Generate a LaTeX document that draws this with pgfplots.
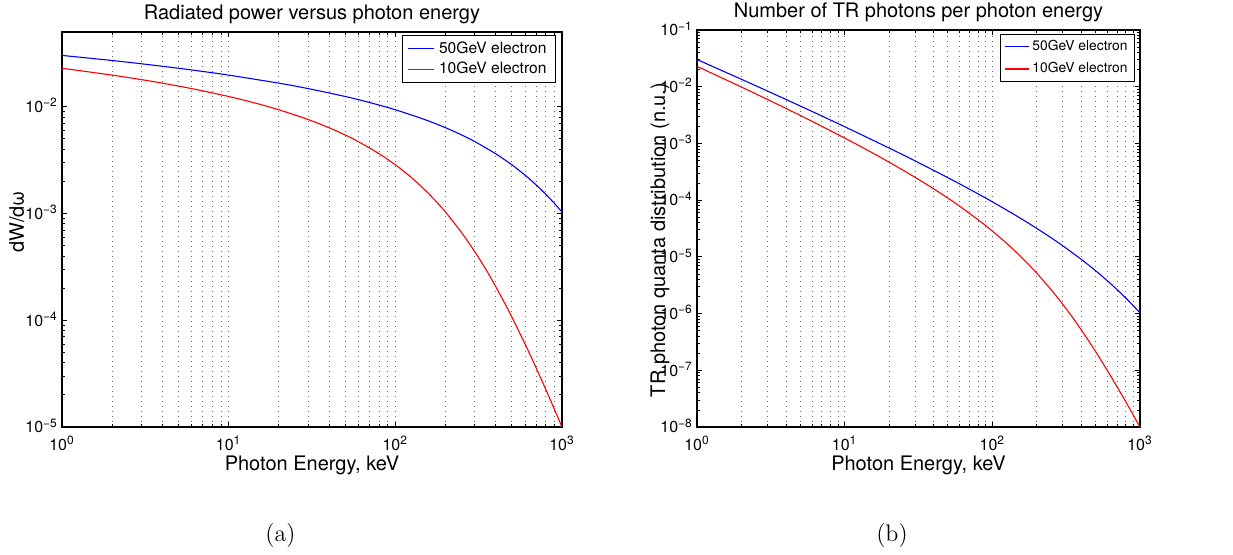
\documentclass[border=0pt]{standalone}
\usepackage{pgfplots}
\pgfplotsset{compat=1.18}
\usepackage{fontspec}
\newfontfamily\helv{TeX Gyre Heros}
\newcommand{\ttl}{\helv\fontsize{10}{12}\selectfont}
\newcommand{\tck}{\helv\fontsize{8}{9.6}\selectfont}
\newcommand{\lgda}{\helv\fontsize{7.8}{9}\selectfont}
\newcommand{\lgdb}{\helv\fontsize{6.9}{8}\selectfont}
\newcommand{\tp}[1]{10\textsuperscript{#1}}

\pgfplotstableread{
E y
1 0.030189
2 0.027042
3 0.025201
5 0.022882
7 0.021354
10 0.019737
20 0.016593
30 0.014757
50 0.012450
70 0.010938
100 0.0093499
150 0.0075752
200 0.0063497
250 0.0054287
300 0.0047028
400 0.0036211
500 0.0028534
600 0.0022834
700 0.0018484
800 0.0015102
900 0.0012433
1000 0.0010301
}\leftblue

\pgfplotstableread{
E y
1 0.022883
2 0.019737
3 0.017898
4 0.016593
6 0.014757
10 0.012450
14 0.010938
20 0.0093499
30 0.0075752
40 0.0063497
50 0.0054287
60 0.0047028
80 0.0036211
100 0.0028534
120 0.0022834
140 0.0018484
160 0.0015102
180 0.0012433
200 0.0010301
250 6.6075e-4
300 4.3703e-4
350 2.9829e-4
400 2.0703e-4
450 1.4755e-4
500 1.0735e-4
600 6.0003e-5
700 3.5718e-5
800 2.2398e-5
900 1.4678e-5
1000 1.0e-5
}\leftred

\pgfplotstableread{
E y
1 0.030189
2 0.013521
3 0.0084003
5 0.0045764
7 0.0030506
10 0.0019737
20 8.2965e-4
30 4.9190e-4
50 2.4900e-4
70 1.5626e-4
100 9.3499e-5
150 5.0501e-5
200 3.1749e-5
250 2.1715e-5
300 1.5676e-5
400 9.0528e-6
500 5.7068e-6
600 3.8057e-6
700 2.6406e-6
800 1.8878e-6
900 1.3814e-6
1000 1.0301e-6
}\rightblue

\pgfplotstableread{
E y
1 0.022883
2 0.0098685
3 0.0059660
4 0.0041483
6 0.0024595
10 0.0012450
14 7.8129e-4
20 4.6750e-4
30 2.5251e-4
40 1.5874e-4
50 1.0857e-4
60 7.8380e-5
80 4.5264e-5
100 2.8534e-5
120 1.9028e-5
140 1.3203e-5
160 9.4388e-6
180 6.9072e-6
200 5.1505e-6
250 2.6430e-6
300 1.4568e-6
350 8.5226e-7
400 5.1758e-7
450 3.2789e-7
500 2.1470e-7
600 1.0001e-7
700 5.1026e-8
800 2.7998e-8
900 1.6309e-8
1000 1.0e-8
}\rightred

\begin{document}
\begin{tikzpicture}
\useasboundingbox (0pt,0pt) rectangle (616.5pt,277pt);

\begin{axis}[
  xmode=log, ymode=log, scale only axis,
  at={(31pt,63.5pt)}, anchor=south west,
  width=250pt, height=197.5pt,
  xmin=1, xmax=1000,
  ymin=1e-5, ymax=0.05,
  xtick={1,10,100,1000},
  xticklabels={\tp{0},\tp{1},\tp{2},\tp{3}},
  ytick={1e-5,1e-4,1e-3,1e-2},
  yticklabels={\tp{−5},\tp{−4},\tp{−3},\tp{−2}},
  xminorticks=true, yminorticks=true,
  xmajorgrids=true, xminorgrids=true,
  major grid style={black!60, line width=0.4pt, dash pattern=on 0.5pt off 2pt},
  minor grid style={black!60, line width=0.4pt, dash pattern=on 0.5pt off 2pt},
  tick align=inside,
  major tick length=2.5pt, minor tick length=1.6pt,
  every tick/.style={black, line width=0.4pt},
  axis line style={line width=0.6pt},
  tick label style={font=\tck},
  xticklabel style={anchor=base, yshift=-11.5pt, inner sep=0pt},
  yticklabel style={anchor=base east, yshift=-2.9pt, xshift=-1.85pt, inner sep=0pt},
  legend cell align=left,
  legend image code/.code={\draw[#1] (0pt,0pt) -- (13pt,0pt);},
  legend style={at={(1,1)}, anchor=north east, xshift=-3pt, yshift=-1.5pt,
    draw=black, line width=0.5pt, fill=white, font=\lgda,
    inner xsep=2.5pt, inner ysep=1.5pt, row sep=0pt,
    nodes={inner xsep=2pt, inner ysep=1.5pt}},
  title={Radiated power versus photon energy},
  every axis title/.style={at={(axis description cs:0.5,1.0329)}, anchor=base, font=\ttl},
  xlabel={Photon Energy, keV},
  every axis x label/.style={at={(axis description cs:0.5,-0.1089)}, anchor=base, font=\ttl},
  ylabel={dW/dω},
  every axis y label/.style={at={(axis description cs:-0.076,0.519)}, rotate=90, anchor=base, font=\ttl},
]
\addplot[blue, line width=0.55pt, smooth] table[x=E,y=y] {\leftblue};
\addlegendentry{50GeV electron}
\addplot[red, line width=0.55pt, smooth] table[x=E,y=y] {\leftred};
\addlegendentry{10GeV electron}
\end{axis}

\begin{axis}[
  xmode=log, ymode=log, scale only axis,
  at={(348.5pt,63.5pt)}, anchor=south west,
  width=221.5pt, height=198.5pt,
  xmin=1, xmax=1000,
  ymin=1e-8, ymax=1e-1,
  xtick={1,10,100,1000},
  xticklabels={\tp{0},\tp{1},\tp{2},\tp{3}},
  ytick={1e-8,1e-7,1e-6,1e-5,1e-4,1e-3,1e-2,1e-1},
  yticklabels={\tp{−8},\tp{−7},\tp{−6},\tp{−5},\tp{−4},\tp{−3},\tp{−2},\tp{−1}},
  xminorticks=true, yminorticks=true,
  xmajorgrids=true, xminorgrids=true,
  major grid style={black!60, line width=0.4pt, dash pattern=on 0.5pt off 2pt},
  minor grid style={black!60, line width=0.4pt, dash pattern=on 0.5pt off 2pt},
  tick align=inside,
  major tick length=2.5pt, minor tick length=1.6pt,
  every tick/.style={black, line width=0.4pt},
  axis line style={line width=0.6pt},
  tick label style={font=\tck},
  xticklabel style={anchor=base, yshift=-11.5pt, inner sep=0pt},
  yticklabel style={anchor=base east, yshift=-2.9pt, xshift=-1.85pt, inner sep=0pt},
  legend cell align=left,
  legend image code/.code={\draw[#1] (0pt,0pt) -- (12pt,0pt);},
  legend style={at={(1,1)}, anchor=north east, xshift=-2.5pt, yshift=-2pt,
    draw=black, line width=0.5pt, fill=white, font=\lgdb,
    inner xsep=2pt, inner ysep=0.5pt, row sep=0pt,
    nodes={inner xsep=1.5pt, inner ysep=2.25pt}},
  title={Number of TR photons per photon energy},
  every axis title/.style={at={(axis description cs:0.5,1.0315)}, anchor=base, font=\ttl},
  xlabel={Photon Energy, keV},
  every axis x label/.style={at={(axis description cs:0.5,-0.1083)}, anchor=base, font=\ttl},
  ylabel={TR photon quanta distribution (n.u.)},
  every axis y label/.style={at={(axis description cs:-0.0722,0.471)}, rotate=90, anchor=base, font=\ttl},
]
\addplot[blue, line width=0.55pt, smooth] table[x=E,y=y] {\rightblue};
\addlegendentry{50GeV electron}
\addplot[red, line width=0.55pt, smooth] table[x=E,y=y] {\rightred};
\addlegendentry{10GeV electron}
\end{axis}

\node[font=\fontsize{12}{14}\selectfont] at (140.25pt,9pt) {(a)};
\node[font=\fontsize{12}{14}\selectfont] at (446pt,9pt) {(b)};
\end{tikzpicture}
\end{document}
